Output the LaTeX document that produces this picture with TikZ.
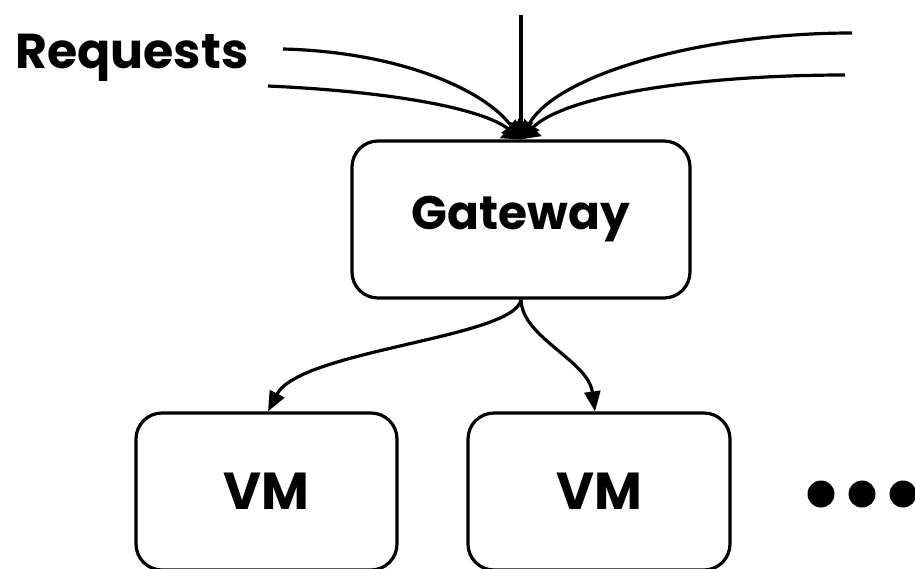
\documentclass[tikz,border=0pt]{standalone}
\usepackage{fontspec}
\setmainfont{Poppins}
\usetikzlibrary{arrows.meta}
\tikzset{
  box/.style={draw, line width=3.2pt, rounded corners=26pt, inner sep=0pt, font=\bfseries},
  feed/.style={line width=3.2pt, -{Triangle[length=17pt,width=24pt]}},
  route/.style={line width=3.2pt, -{Triangle[length=20pt,width=16pt]}},
  label/.style={font=\fontsize{49}{52}\selectfont\bfseries, inner sep=0pt, anchor=base west},
  dot/.style={circle, fill=black, inner sep=0pt, minimum size=27pt},
}
\begin{document}
\begin{tikzpicture}[x=1pt, y=-1pt]
  \useasboundingbox (0,0) rectangle (915,568);
  \clip (0,0) rectangle (915,568);

  % gateway and the virtual machines behind it
  \node[box, minimum width=338pt, minimum height=157pt, font=\fontsize{47}{52}\selectfont\bfseries]
    (gw) at (521,219.5) {Gateway};
  \node[box, minimum width=261pt, minimum height=157pt, font=\fontsize{52}{56}\selectfont\bfseries]
    (vm1) at (266.5,491.5) {VM};
  \node[box, minimum width=262pt, minimum height=157pt, font=\fontsize{52}{56}\selectfont\bfseries]
    (vm2) at (599,491.5) {VM};

  % "more machines" marker
  \node[dot] (d1) at (821,494) {};
  \node[dot] (d2) at (862,494) {};
  \node[dot] (d3) at (903,494) {};

  % incoming request streams
  \node[label] (req) at (15,68) {Requests};
  \coordinate (top) at (521,15);
  \coordinate (l1) at (283,49);
  \coordinate (l2) at (268,86);
  \coordinate (r1) at (852,33);
  \coordinate (r2) at (845,75);

  \draw[feed] (top) -- (gw.north);
  \draw[feed] (l1) .. controls (400,52) and (485,90) .. (gw.north);
  \draw[feed] (l2) .. controls (400,92) and (485,110) .. (gw.north);
  \draw[feed] (r1) .. controls (700,33) and (555,75) .. (gw.north);
  \draw[feed] (r2) .. controls (700,75) and (565,95) .. (gw.north);

  % routing to the machines
  \draw[route] (gw.south) .. controls (515,338) and (300,350) .. ([xshift=1.5pt]vm1.north);
  \draw[route] (gw.south) .. controls (522,338) and (588,360) .. ([xshift=-4pt]vm2.north);
\end{tikzpicture}
\end{document}
